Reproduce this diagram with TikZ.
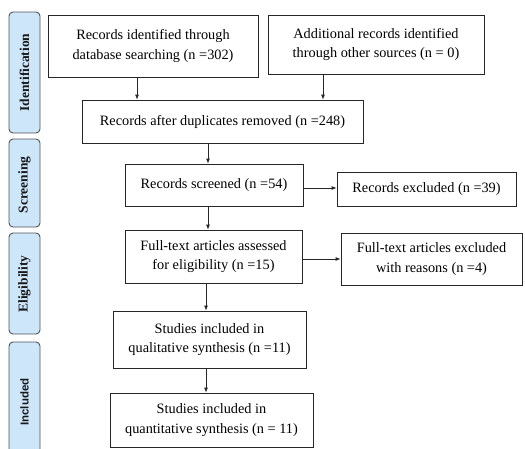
\documentclass[tikz,border=0pt]{standalone}
\usepackage{fontspec}
\setmainfont{Liberation Serif}
\setsansfont{Liberation Sans}
\usetikzlibrary{arrows.meta}
\definecolor{stagefill}{RGB}{205,230,250}
\definecolor{stageline}{RGB}{80,85,90}
\begin{document}
\begin{tikzpicture}[x=1pt,y=-1pt,
  box/.style={draw=black!85, line width=0.8pt, fill=white, font=\fontsize{14.3}{19.5}\selectfont, align=center, inner sep=0pt},
  stage/.style={draw=stageline, line width=0.9pt, fill=stagefill, rounded corners=4pt},
  stagetext/.style={rotate=90, text=black!90, font=\bfseries\fontsize{13.5}{14}\selectfont},
  arr/.style={draw=black!85, line width=0.8pt, -{Latex[length=5pt,width=4pt]}}]
\useasboundingbox (0,0) rectangle (525,448);
% stage labels
\draw[stage] (9,12) rectangle (40,133);
\node[stagetext] (sid) at (24.5,72.5) {Identification};
\draw[stage] (9,139) rectangle (40,227);
\node[stagetext] (ssc) at (24.5,185) {Screening};
\draw[stage] (9,233) rectangle (40,334);
\node[stagetext] (sel) at (24.5,284) {Eligibility};
\draw[stage] (9,342) rectangle (40,460);
\node[rotate=90, text=black!90, font=\sffamily\bfseries\fontsize{11.5}{12}\selectfont] (sin) at (24.5,402) {Included};
% boxes
\node[box, minimum width=210, minimum height=62] (b1) at (153,46) {Records identified through\\database searching (n =302)};
\node[box, minimum width=216, minimum height=59] (b2) at (376,44.5) {Additional records identified\\through other sources (n = 0)};
\node[box, minimum width=281, minimum height=43] (b3) at (222.5,121.5) {Records after duplicates removed (n =248)};
\node[box, minimum width=178, minimum height=42] (b4) at (214,185) {Records screened (n =54)};
\node[box, minimum width=179, minimum height=34] (b5) at (426.5,189) {Records excluded (n =39)};
\node[box, minimum width=177, minimum height=53] (b6) at (213.5,256.5) {Full-text articles assessed\\for eligibility (n =15)};
\node[box, minimum width=181, minimum height=52] (b7) at (431.5,259) {Full-text articles excluded\\with reasons (n =4)};
\node[box, minimum width=193, minimum height=57] (b8) at (209.5,339.5) {Studies included in\\qualitative synthesis (n =11)};
\node[box, minimum width=203, minimum height=54] (b9) at (211.5,420) {Studies included in\\quantitative synthesis (n = 11)};
% arrows
\draw[arr] (b1.south -| 137,0) -- (b3.north -| 137,0);
\draw[arr] (b2.south -| 323,0) -- (b3.north -| 323,0);
\draw[arr] (b3.south -| 208,0) -- (b4.north -| 208,0);
\draw[arr] (b4.east |- 0,188) -- (b5.west |- 0,188);
\draw[arr] (b4.south -| 208,0) -- (b6.north -| 208,0);
\draw[arr] (b6.east |- 0,259) -- (b7.west |- 0,259);
\draw[arr] (b6.south -| 206,0) -- (b8.north -| 206,0);
\draw[arr] (b8.south -| 206,0) -- (b9.north -| 206,0);
\end{tikzpicture}
\end{document}
